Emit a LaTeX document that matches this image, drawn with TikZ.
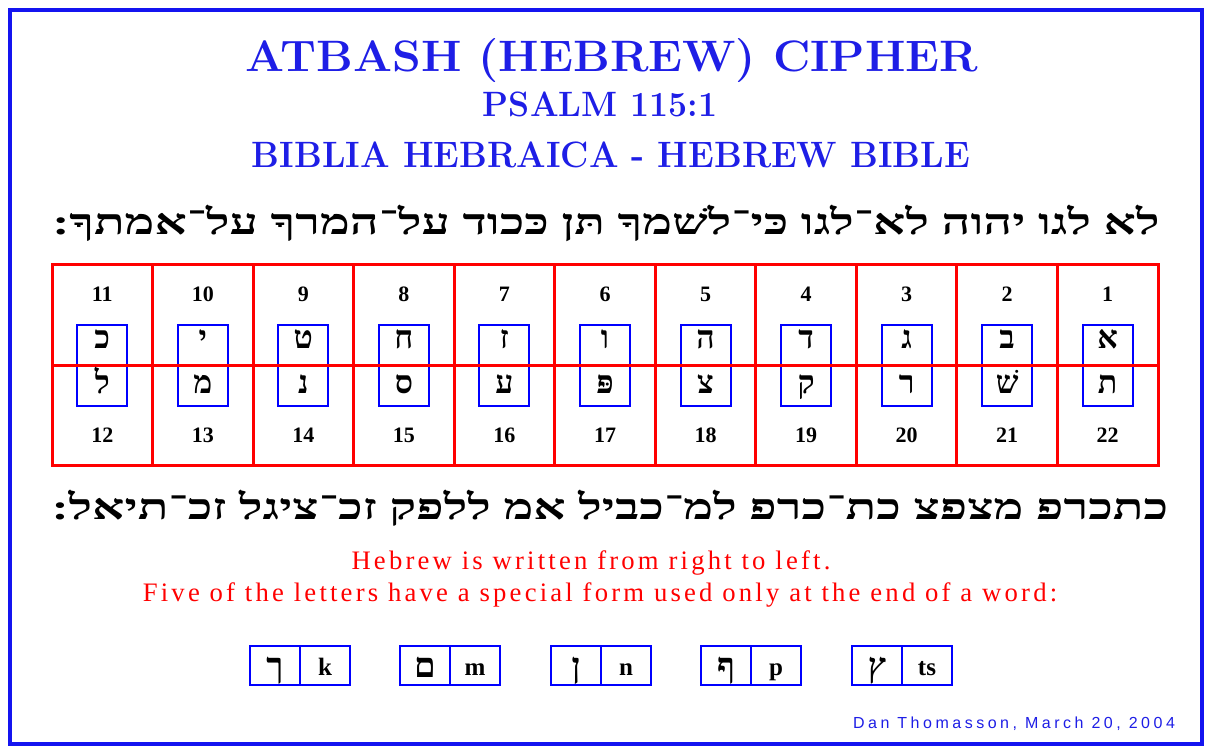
\documentclass[tikz,border=0pt]{standalone}
\usepackage{fontspec}
\usepackage{graphicx}
\TeXXeTstate=1
\newfontfamily\hebfont[Script=Hebrew]{Liberation Serif}
\newfontfamily\numfont{Liberation Serif}
\newfontfamily\redfont[LetterSpace=12]{Liberation Serif}
\newfontfamily\sigfont[LetterSpace=22]{Liberation Sans}
\definecolor{frameblue}{RGB}{20,20,240}
\definecolor{titleblue}{RGB}{30,30,230}
\definecolor{boxblue}{RGB}{0,0,255}
\definecolor{gridred}{RGB}{255,0,0}
\begin{document}
\begin{tikzpicture}[x=0.75pt,y=-0.75pt,
  titletext/.style={text=titleblue, inner sep=0pt, anchor=base},
  hebline/.style={inner sep=0pt, anchor=base},
  numlabel/.style={inner sep=0pt, anchor=base, font=\numfont\bfseries\fontsize{16.5pt}{16.5pt}\selectfont},
  gridletter/.style={inner sep=0pt, anchor=base, font=\hebfont\bfseries\fontsize{24pt}{24pt}\selectfont},
  finalletter/.style={inner sep=0pt, anchor=base, font=\hebfont\bfseries\fontsize{26pt}{26pt}\selectfont},
  redline/.style={inner sep=0pt, anchor=base, text=gridred, font=\redfont\fontsize{20pt}{20pt}\selectfont},
  latinletter/.style={inner sep=0pt, anchor=base, font=\numfont\bfseries\fontsize{18.75pt}{18.75pt}\selectfont},
  bluebox/.style={draw=boxblue, line width=1.5pt},
  redgrid/.style={draw=gridred, line width=2.25pt}]
\useasboundingbox[fill=white] (0,0) rectangle (1216,752);
\draw[frameblue, line width=3pt] (10,10) rectangle (1202,744);

\node[titletext] (t1) at (612,72) {\scalebox{1.045}[1]{\fontsize{33pt}{33pt}\selectfont\bfseries ATBASH (HEBREW) CIPHER}};
\node[titletext] (t2) at (600,117) {\scalebox{0.96}[1]{\fontsize{26.4pt}{26pt}\selectfont\bfseries PSALM 115:1}};
\node[titletext] (t3) at (611,168) {\scalebox{0.95}[1]{\fontsize{27.5pt}{27pt}\selectfont\bfseries BIBLIA HEBRAICA - HEBREW BIBLE}};

\node[hebline] (h1) at (606,234) {\resizebox{830pt}{22pt}{\hebfont\bfseries\beginR לא לגו יהוה לא־לגו כּי־לשׁמךָ תּן כּכוד על־המרךָ על־אמתךָ:\endR}};

% blue boxes
\foreach \j in {0,...,10} {
  \pgfmathsetmacro\cx{52+100.545*(\j+0.5)}
  \draw[bluebox] (\cx-25,325) rectangle (\cx+25,406);
}
% red grid
\draw[redgrid] (52,264) rectangle (1158,465);
\draw[redgrid] (52,365) -- (1158,365);
\foreach \j in {1,...,10} {
  \pgfmathsetmacro\gx{52+100.545*\j}
  \draw[redgrid] (\gx,264) -- (\gx,465);
}
% numbers and letters
\foreach \j/\up/\lo in {0/כ/ל,1/י/מ,2/ט/נ,3/ח/ס,4/ז/ע,5/ו/פּ,6/ה/צ,7/ד/ק,8/ג/ר,9/ב/שׁ,10/א/ת} {
  \pgfmathsetmacro\cx{52+100.545*(\j+0.5)}
  \pgfmathtruncatemacro\nt{11-\j}
  \pgfmathtruncatemacro\nb{12+\j}
  \node[numlabel] (nt\j) at (\cx,301) {\nt};
  \node[numlabel] (nb\j) at (\cx,442) {\nb};
  \node[gridletter] (lu\j) at (\cx,348) {\up};
  \node[gridletter] (ll\j) at (\cx,393) {\lo};
}

\node[hebline] (h2) at (610,519) {\resizebox{837pt}{22pt}{\hebfont\bfseries\beginR כתכרפ מצפצ כת־כרפ למ־כביל אמ ללפק זכ־ציגל זכ־תיאל:\endR}};

\node[redline] (r1) at (591,569) {Hebrew is written from right to left.};
\node[redline] (r2) at (600,601) {Five of the letters have a special form used only at the end of a word:};

% final forms
\foreach \k/\cx/\hl/\ll in {1/300/ך/k,2/450/ם/m,3/601/ן/n,4/751/ף/p,5/902/ץ/ts} {
  \draw[bluebox] (\cx-50,646) rectangle (\cx+50,685);
  \draw[bluebox] (\cx,646) -- (\cx,685);
  \node[finalletter] (fh\k) at (\cx-25,677) {\hl};
  \node[latinletter] (fl\k) at (\cx+25,675) {\ll};
}

\node[inner sep=0pt, anchor=base, text=titleblue, font=\sigfont\fontsize{12pt}{12pt}\selectfont] (sig) at (1014,728) {Dan Thomasson, March 20, 2004};
\end{tikzpicture}
\end{document}
